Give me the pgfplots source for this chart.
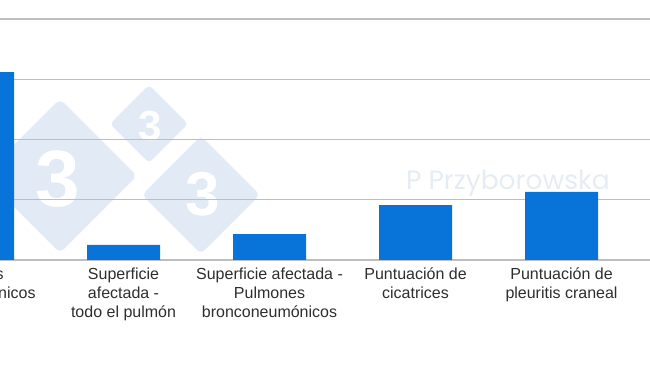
\documentclass[border=0pt]{standalone}
\usepackage{pgfplots}
\pgfplotsset{compat=1.18}
\usepackage{fontspec}
\setmainfont{Liberation Sans}
\newfontfamily\wmfont{Poppins}
\definecolor{barblue}{RGB}{8,116,218}
\definecolor{gridgray}{RGB}{190,190,190}
\definecolor{wmblue}{RGB}{226,234,245}
\definecolor{wmtext}{RGB}{230,236,245}
\begin{document}
\begin{tikzpicture}[x=1pt,y=1pt]
\path[use as bounding box, clip] (0pt,0pt) rectangle (650pt,366pt);
% watermark diamonds (pixel coords: x, 366-y)
\fill[wmblue, rounded corners=6pt] (60pt,267pt) -- (137pt,190pt) -- (60pt,113pt) -- (-17pt,190pt) -- cycle;
\fill[wmblue, rounded corners=4pt] (149pt,281pt) -- (188pt,242pt) -- (149pt,203pt) -- (110pt,242pt) -- cycle;
\fill[wmblue, rounded corners=5pt] (201pt,230pt) -- (260pt,171pt) -- (201pt,112pt) -- (142pt,171pt) -- cycle;
\node[white, font=\bfseries\fontsize{80}{80}\selectfont] at (58pt,187pt) {3};
\node[white, font=\bfseries\fontsize{42}{42}\selectfont] at (150pt,240pt) {3};
\node[white, font=\bfseries\fontsize{62}{62}\selectfont] at (203pt,172pt) {3};
\node[wmtext, font=\wmfont\fontsize{26.5}{26.5}\selectfont, anchor=base west, inner sep=0pt] at (406pt,176pt) {P Przyborowska};
\begin{axis}[
  at={(0pt,106pt)}, anchor=south west,
  scale only axis, width=650pt, height=241pt,
  xmin=0.154, xmax=4.606, ymin=0, ymax=4,
  ybar, bar width=73pt,
  axis line style={draw=none},
  ymajorgrids, grid style={gridgray, line width=1.3pt},
  ytick={0,1,2,3,4}, yticklabels={},
  xtick={1,2,3,4},
  xticklabels={{Superficie\\afectada -\\todo el pulmón},{Superficie afectada -\\Pulmones\\bronconeumónicos},{Puntuación de\\cicatrices},{Puntuación de\\pleuritis craneal}},
  xticklabel style={align=center, font=\fontsize{16}{19}\selectfont, text=black!82, yshift=-4pt},
  major tick length=0pt,
  clip=false,
]
\addplot[fill=barblue, draw=none] coordinates {(0,3.12) (1,0.25) (2,0.43) (3,0.91) (4,1.13)};
\node[anchor=north, align=center, font=\fontsize{16}{19}\selectfont, text=black!82, yshift=-4pt, inner sep=3.33pt] at (axis cs:-0.065,0) {Pulmones\\bronconeumónicos};
\end{axis}
\end{tikzpicture}
\end{document}
